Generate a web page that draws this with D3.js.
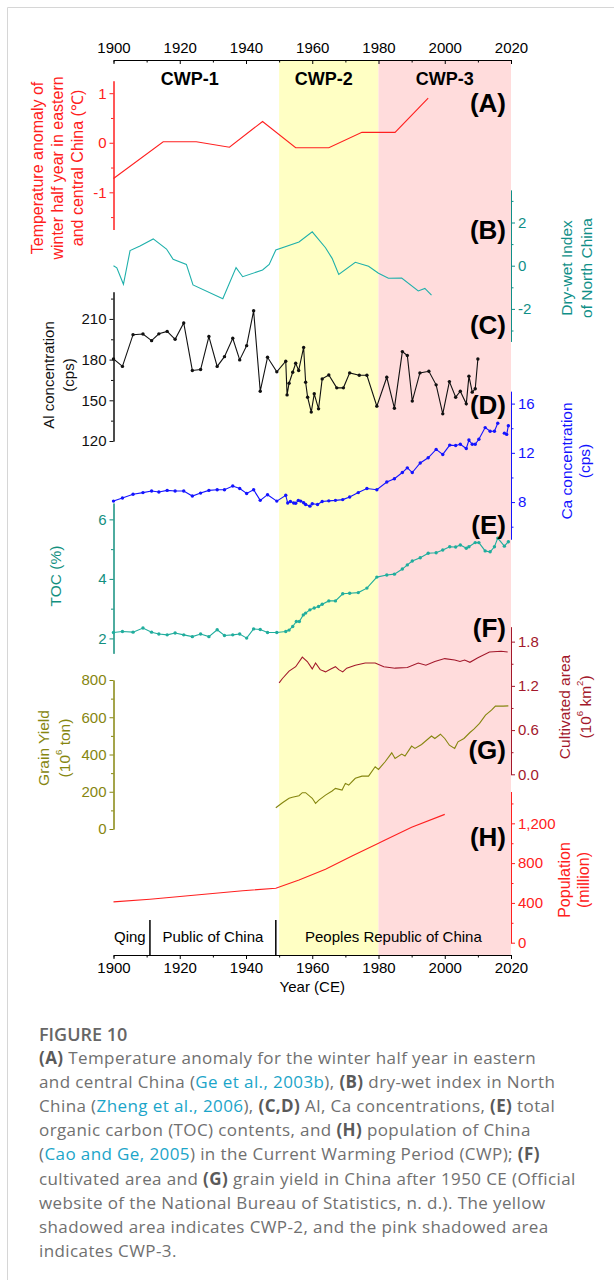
<!DOCTYPE html>
<html>
<head>
<meta charset="utf-8">
<script src="https://cdn.jsdelivr.net/npm/d3@7"></script>
<style>
  body { margin: 0; background: #fff; }
  svg { display: block; font-family: "Liberation Sans", Arial, sans-serif; }
</style>
</head>
<body>
<script>
// ---- data ----
const yearTicks = [1900, 1920, 1940, 1960, 1980, 2000, 2020]
const minorYears = [1910, 1930, 1950, 1970, 1990, 2010]

const shadedPeriods = [
  { start: 1950, end: 1980, fill: "#ffffc4" },
  { start: 1980, end: 2020, fill: "#ffdcdc" }
]
const cwpNames = ["CWP-1", "CWP-2", "CWP-3"]
const cwpLabelYears = [1923, 1963.5, 2000]

const regimeNames = ["Qing", "Public of China", "Peoples Republic of China"]
const regimeBreaks = [1911, 1949]

// (A) temperature anomaly
const tempYears = [1900, 1915, 1925, 1935, 1945, 1955, 1965, 1975, 1985, 1995]
const tempAnom = [-0.72, 0.02, 0.02, -0.09, 0.43, -0.1, -0.1, 0.21, 0.21, 0.9]

// (B) dry-wet index
const dwYears = [1900, 1901, 1903, 1905, 1908, 1912, 1916, 1918, 1922, 1924, 1933, 1937, 1939, 1945, 1947, 1949, 1956, 1960, 1964, 1966, 1968, 1973, 1977, 1980, 1983, 1987, 1992, 1994, 1996]
const dwIndex = [0.0, -0.1, -0.86, 0.7, 0.91, 1.24, 0.77, 0.3, 0.06, -0.89, -1.53, -0.09, -0.51, -0.2, 0.06, 0.73, 1.1, 1.57, 0.83, 0.34, -0.4, 0.16, -0.03, -0.35, -0.58, -0.57, -1.17, -1.05, -1.36]

// (C) Al concentration
const alYears = [1900, 1902.7, 1905.9, 1908.9, 1911.5, 1913.7, 1916.2, 1918.6, 1921.2, 1923.8, 1926.3, 1928.8, 1931.3, 1933.5, 1936, 1938.1, 1940.2, 1942.3, 1944.3, 1946.5, 1949.3, 1952, 1952.4, 1953, 1954.1, 1955, 1955.9, 1957.4, 1958, 1958.6, 1959.7, 1960.6, 1961.9, 1963, 1965, 1967.4, 1969.4, 1971.3, 1974.2, 1976.5, 1979.5, 1982.5, 1984.8, 1987.2, 1988.7, 1990.2, 1992.5, 1995.2, 1997.4, 1999.4, 2001.4, 2003.3, 2004.7, 2006.5, 2007.3, 2008.3, 2009.2, 2010]
const alValues = [180.5, 175, 198.4, 198.9, 194, 199, 200.8, 195, 207, 172, 172.7, 197, 175, 182.2, 195.7, 179.8, 190.3, 216, 156.7, 181.7, 171, 178.8, 154, 162.6, 170.7, 177.3, 172, 189, 163.3, 152.3, 141.3, 154.8, 143.7, 165.8, 168.7, 159.2, 159.2, 170.2, 168.5, 168.5, 145.7, 167, 144.2, 185.9, 183, 149.4, 170.2, 171.4, 161.4, 140, 163.8, 152.3, 156.7, 147.4, 167.8, 156, 158.5, 180.5]

// (D) Ca concentration (null = gap in the record)
const caYears = [1900, 1902.7, 1905.9, 1908.9, 1911.5, 1913.7, 1916.2, 1918.6, 1921.2, 1923.8, 1926.3, 1928.8, 1931.3, 1933.5, 1936, 1938.1, 1940.2, 1942.3, 1944.3, 1946.5, 1949.3, 1952, 1952.6, 1953.4, 1954.4, 1955, 1955.8, 1956.5, 1957.4, 1958, 1959.3, 1960, 1961.6, 1963, 1965, 1967, 1969.2, 1971.3, 1973.9, 1976.5, 1979.5, 1982.5, 1984.8, 1987.2, 1988.7, 1990.2, 1992.6, 1995, 1997.4, 1999.4, 2001.5, 2003.3, 2004.7, 2006.5, 2007.3, 2008.3, 2009.2, 2010.3, 2012.2, 2013.7, 2015, 2016, 2017, 2018, 2018.7, 2019.2]
const caValues = [8.08, 8.33, 8.63, 8.77, 8.9, 8.82, 8.95, 8.9, 8.9, 8.49, 8.73, 8.95, 9.0, 9.0, 9.3, 9.1, 8.7, 9.0, 8.14, 8.6, 8.08, 8.55, 7.92, 8.05, 7.92, 7.9, 8.14, 8.08, 7.95, 7.8, 7.67, 7.87, 7.8, 8.05, 8.1, 8.14, 8.2, 8.41, 8.77, 9.1, 9.0, 9.63, 9.9, 10.4, 10.78, 10.4, 11.18, 11.6, 12.28, 11.87, 12.63, 12.6, 12.7, 12.35, 13.04, 12.7, 12.7, 13.1, 14.05, 13.75, 13.75, 14.4, null, 13.6, 13.5, 14.2]

// (E) TOC
const tocYears = [1900, 1902.7, 1905.9, 1908.9, 1911.5, 1913.7, 1916.2, 1918.6, 1921.2, 1923.8, 1926.3, 1928.8, 1931.3, 1933.5, 1936, 1938.1, 1940.2, 1942.3, 1944.3, 1946.5, 1949.3, 1952, 1953, 1954.1, 1955.2, 1956.1, 1957.3, 1958, 1959.3, 1960.6, 1961.9, 1963, 1965, 1967, 1969.2, 1971.3, 1973.9, 1976.5, 1979.5, 1982.5, 1984.8, 1987.2, 1988.7, 1990.2, 1992.6, 1995, 1997.4, 1999.4, 2001.5, 2003.3, 2004.7, 2006.5, 2007.3, 2009.2, 2010.3, 2012.2, 2013.7, 2015, 2016, 2018, 2019.2]
const tocValues = [2.2, 2.23, 2.21, 2.35, 2.21, 2.15, 2.12, 2.18, 2.12, 2.06, 2.15, 2.06, 2.29, 2.1, 2.12, 2.15, 2.01, 2.32, 2.3, 2.2, 2.2, 2.23, 2.28, 2.4, 2.57, 2.57, 2.79, 2.85, 2.96, 3.02, 3.07, 3.15, 3.26, 3.26, 3.5, 3.52, 3.54, 3.69, 4.06, 4.13, 4.16, 4.33, 4.47, 4.6, 4.71, 4.86, 4.88, 4.97, 5.08, 5.07, 5.14, 5.03, 5.08, 5.22, 5.22, 4.94, 4.91, 5.08, 5.37, 5.1, 5.25]

// (F) cultivated area
const cultYears = [1950, 1951, 1953, 1955, 1957, 1958.5, 1960, 1961, 1962.4, 1964, 1965.6, 1967, 1968, 1969.2, 1970.4, 1973, 1976, 1979, 1981.6, 1985, 1988.7, 1992, 1994.3, 1997, 2000, 2003, 2004.6, 2006, 2007.6, 2010, 2013.5, 2017, 2019]
const cultArea = [1.24, 1.30, 1.40, 1.46, 1.59, 1.53, 1.43, 1.51, 1.42, 1.39, 1.43, 1.46, 1.42, 1.39, 1.44, 1.48, 1.51, 1.51, 1.46, 1.44, 1.45, 1.51, 1.48, 1.53, 1.57, 1.55, 1.53, 1.55, 1.52, 1.58, 1.66, 1.67, 1.66]

// (G) grain yield
const grainYears = [1949, 1951, 1953, 1954, 1956, 1957, 1958, 1960, 1961, 1962, 1964, 1966, 1967, 1969, 1970, 1971, 1973, 1975, 1977, 1979, 1980, 1982, 1984, 1985, 1987, 1988, 1990, 1991, 1993, 1996, 1997, 1998.7, 2000, 2001.4, 2003, 2004, 2005.8, 2007.6, 2008.8, 2010.5, 2012.3, 2014.1, 2015.3, 2017.6, 2019.2]
const grainYield = [114, 141, 165, 170, 179, 195, 195, 165, 138, 155, 182, 204, 218, 209, 245, 236, 272, 284, 284, 334, 320, 361, 409, 379, 402, 392, 445, 433, 454, 499, 486, 509, 486, 450, 433, 468, 486, 518, 536, 567, 611, 638, 660, 660, 661]

// (H) population
const popYears = [1900, 1911, 1925, 1939, 1949, 1956, 1964, 1972, 1980, 1982, 1990, 2000]
const population = [410, 437, 479, 523, 547, 630, 738, 871, 999, 1032, 1160, 1290]

// ---- layout ----
const w = 614
const h = 1280
const plotTop = 60
const plotBottom = 955

const svg = d3.select("body")
                .append("svg")
                .attr("width", w)
                .attr("height", h)

// page frame
svg.append("path")
    .attr("d", `M7.5,${h}V7.5H${w}`)
    .attr("fill", "none")
    .attr("stroke", "#d6d6d6")

const x = d3.scaleLinear().domain([1900, 2020]).range([113.5, 511])

// shaded periods
svg.selectAll("rect.period")
    .data(shadedPeriods)
    .enter()
    .append("rect")
    .attr("class", "period")
    .attr("x", d => x(d.start))
    .attr("y", plotTop)
    .attr("width", d => x(d.end) - x(d.start))
    .attr("height", plotBottom - plotTop)
    .attr("fill", d => d.fill)

// strip d3's default font so css applies
const styleAxis = (g, color) => {
  g.attr("font-family", null).attr("font-size", 15)
  g.select(".domain").attr("stroke", color)
  g.selectAll(".tick line").attr("stroke", color)
  g.selectAll(".tick text").attr("fill", color)
}

// top and bottom year axes
svg.append("g")
    .attr("transform", `translate(0,${plotTop})`)
    .call(d3.axisTop(x).tickValues(yearTicks).tickSize(-4).tickSizeOuter(0).tickPadding(7).tickFormat(d3.format("d")))
    .call(g => styleAxis(g, "#000"))
svg.append("g")
    .attr("transform", `translate(0,${plotTop})`)
    .call(d3.axisTop(x).tickValues(minorYears).tickSize(-2.5).tickFormat(""))
    .call(g => styleAxis(g, "#000"))

svg.append("g")
    .attr("transform", `translate(0,${plotBottom})`)
    .call(d3.axisBottom(x).tickValues(yearTicks).tickSize(4).tickSizeOuter(0).tickPadding(3).tickFormat(d3.format("d")))
    .call(g => styleAxis(g, "#000"))
svg.append("g")
    .attr("transform", `translate(0,${plotBottom})`)
    .call(d3.axisBottom(x).tickValues(minorYears).tickSize(2.5).tickFormat(""))
    .call(g => styleAxis(g, "#000"))

svg.append("text")
    .attr("x", x(1960))
    .attr("y", 992)
    .attr("text-anchor", "middle")
    .attr("font-size", 15)
    .text("Year (CE)")

// CWP labels
svg.selectAll("text.cwp")
    .data(cwpNames)
    .enter()
    .append("text")
    .attr("class", "cwp")
    .attr("x", (d, i) => x(cwpLabelYears[i]))
    .attr("y", 84.5)
    .attr("text-anchor", "middle")
    .attr("font-size", 18)
    .attr("font-weight", "bold")
    .text(d => d)

// one y axis per panel
const yAxis = (scale, side, major, minor, fmt, color) => {
  const axisFn = side === "left" ? d3.axisLeft : d3.axisRight
  const g = svg.append("g")
                .attr("transform", `translate(${side === "left" ? x(1900) : x(2020)},0)`)
  g.append("g")
    .call(axisFn(scale).tickValues(major).tickSize(4).tickSizeOuter(0).tickPadding(3).tickFormat(fmt))
    .call(a => styleAxis(a, color))
  g.append("g")
    .call(axisFn(scale).tickValues(minor).tickSize(2.5).tickSizeOuter(0).tickFormat(""))
    .call(a => styleAxis(a, color))
}

const drawSeries = (years, values, scale, color, markers) => {
  const pts = d3.zip(years, values)
  const line = d3.line()
                  .defined(d => d[1] !== null)
                  .x(d => x(d[0]))
                  .y(d => scale(d[1]))
  svg.append("path")
      .datum(pts)
      .attr("d", line)
      .attr("fill", "none")
      .attr("stroke", color)
      .attr("stroke-width", 1.1)
  if (markers) {
    svg.append("g")
        .selectAll("circle")
        .data(pts.filter(d => d[1] !== null))
        .enter()
        .append("circle")
        .attr("cx", d => x(d[0]))
        .attr("cy", d => scale(d[1]))
        .attr("r", 1.7)
        .attr("fill", color)
  }
}

// rotated multi-line axis title; lines = array of arrays of [text, isSuper]
const axisTitle = (lines, xs, cy, color, size) => {
  lines.forEach((parts, i) => {
    const t = svg.append("text")
                  .attr("transform", `translate(${xs[i]},${cy}) rotate(-90)`)
                  .attr("text-anchor", "middle")
                  .attr("dominant-baseline", "central")
                  .attr("font-size", size)
                  .attr("fill", color)
    parts.forEach(p => {
      const s = t.append("tspan").text(p[0])
      if (p[1]) s.attr("font-size", size * 0.62).attr("baseline-shift", "super")
    })
  })
}

const panelLabel = (label, cy) => {
  svg.append("text")
      .attr("x", 506)
      .attr("y", cy)
      .attr("text-anchor", "end")
      .attr("dominant-baseline", "central")
      .attr("font-size", 26)
      .attr("font-weight", "bold")
      .text(label)
}

// (A)
const colA = "#ff2020"
const yA = d3.scaleLinear().domain([-1.75, 1.25]).range([229.5, 80.8])
yAxis(yA, "left", [-1, 0, 1], [-1.5, -0.5, 0.5], d => (d < 0 ? "-" + Math.abs(d) : d), colA)
drawSeries(tempYears, tempAnom, yA, colA, false)
axisTitle([[["Temperature anomaly of"]], [["winter half year in eastern"]], [["and central China (℃)"]]], [37, 57, 77], 168, colA, 16)
panelLabel("(A)", 103)

// (B)
const colBline = "#1fb0ab"
const colB = "#0f8f88"
const yB = d3.scaleLinear().domain([-3.5, 3.5]).range([341.3, 190.1])
yAxis(yB, "right", [-2, 0, 2], [-3, -1, 1, 3], d => (d < 0 ? "-" + Math.abs(d) : d), colB)
drawSeries(dwYears, dwIndex, yB, colBline, false)
axisTitle([[["Dry-wet Index"]], [["of North China"]]], [566, 586], 268, colB, 15.5)
panelLabel("(B)", 230)

// (C)
const colC = "#111"
const yC = d3.scaleLinear().domain([120, 230]).range([441, 291.8])
yAxis(yC, "left", [120, 150, 180, 210], [135, 165, 195, 225], d3.format("d"), colC)
drawSeries(alYears, alValues, yC, colC, true)
axisTitle([[["Al concentration"]], [["(cps)"]]], [48, 68], 375, colC, 15)
panelLabel("(C)", 325)

// (D)
const colD = "#1414ff"
const yD = d3.scaleLinear().domain([5, 17]).range([539, 391.3])
yAxis(yD, "right", [8, 12, 16], [6, 10, 14], d3.format("d"), colD)
drawSeries(caYears, caValues, yD, colD, true)
axisTitle([[["Ca concentration"]], [["(cps)"]]], [566, 584], 461, colD, 15.5)
panelLabel("(D)", 405)

// (E)
const colEline = "#20ad9d"
const colE = "#13907f"
const yE = d3.scaleLinear().domain([1.5, 6.55]).range([653.3, 503])
yAxis(yE, "left", [2, 4, 6], [3, 5], d3.format("d"), colE)
drawSeries(tocYears, tocValues, yE, colEline, true)
axisTitle([[["TOC (%)"]]], [55], 576, colE, 15.5)
panelLabel("(E)", 525)

// (F)
const colF = "#a3182b"
const yF = d3.scaleLinear().domain([0, 2]).range([774.3, 626.9])
yAxis(yF, "right", [0, 0.6, 1.2, 1.8], [0.3, 0.9, 1.5], d3.format(".1f"), colF)
drawSeries(cultYears, cultArea, yF, colF, false)
axisTitle([[["Cultivated area"]], [["(10"], ["6", true], [" km"], ["2", true], [")"]]], [564, 585], 707, colF, 15.5)
panelLabel("(F)", 628)

// (G)
const colG = "#86860f"
const yG = d3.scaleLinear().domain([0, 800]).range([829, 680])
yAxis(yG, "left", [0, 200, 400, 600, 800], [100, 300, 500, 700], d3.format("d"), colG)
drawSeries(grainYears, grainYield, yG, colG, false)
axisTitle([[["Grain Yield"]], [["(10"], ["6", true], [" ton)"]]], [43, 64], 748, colG, 15.5)
panelLabel("(G)", 750)

// (H)
const colH = "#ff2020"
const yH = d3.scaleLinear().domain([0, 1520]).range([942.7, 791.5])
yAxis(yH, "right", [0, 400, 800, 1200], [200, 600, 1000, 1400], d3.format(","), colH)
drawSeries(popYears, population, yH, colH, false)
axisTitle([[["Population"]], [["(million)"]]], [564, 583], 880, colH, 16)
panelLabel("(H)", 837)

// political periods along the bottom
svg.selectAll("line.regime")
    .data(regimeBreaks)
    .enter()
    .append("line")
    .attr("class", "regime")
    .attr("x1", d => x(d))
    .attr("x2", d => x(d))
    .attr("y1", 920)
    .attr("y2", plotBottom)
    .attr("stroke", "#000")
    .attr("stroke-width", 1.5)

const regimeBounds = [1900].concat(regimeBreaks, [2020])
svg.selectAll("text.regime")
    .data(regimeNames)
    .enter()
    .append("text")
    .attr("class", "regime")
    .attr("x", (d, i) => i === 0 ? x(1900) + 0.5 : x((regimeBounds[i] + regimeBounds[i + 1]) / 2))
    .attr("y", 942)
    .attr("text-anchor", (d, i) => i === 0 ? "start" : "middle")
    .attr("font-size", 15)
    .text(d => d)

// ---- caption ----
const capLines = [
  [["(A)", "b"], [" Temperature anomaly for the winter half year in eastern", ""]],
  [["and central China (", ""], ["Ge et al., 2003b", "l"], ["), ", ""], ["(B)", "b"], [" dry-wet index in North", ""]],
  [["China (", ""], ["Zheng et al., 2006", "l"], ["), ", ""], ["(C,D)", "b"], [" Al, Ca concentrations, ", ""], ["(E)", "b"], [" total", ""]],
  [["organic carbon (TOC) contents, and ", ""], ["(H)", "b"], [" population of China", ""]],
  [["(", ""], ["Cao and Ge, 2005", "l"], [") in the Current Warming Period (CWP); ", ""], ["(F)", "b"]],
  [["cultivated area and ", ""], ["(G)", "b"], [" grain yield in China after 1950 CE (Official", ""]],
  [["website of the National Bureau of Statistics, n. d.). The yellow", ""]],
  [["shadowed area indicates CWP-2, and the pink shadowed area", ""]],
  [["indicates CWP-3.", ""]]
]

const caption = svg.append("g")
                    .attr("font-family", "'Open Sans', sans-serif")
                    .attr("font-size", 17)
                    .attr("letter-spacing", 0.4)
                    .attr("fill", "#707070")

caption.append("text")
        .attr("x", 39)
        .attr("y", 1041)
        .attr("font-weight", 600)
        .attr("font-size", 18)
        .attr("letter-spacing", 0)
        .attr("fill", "#666")
        .text("FIGURE 10")

capLines.forEach((parts, i) => {
  const t = caption.append("text")
                    .attr("x", 39)
                    .attr("y", 1064 + i * 24.1)
  parts.forEach(p => {
    const s = t.append("tspan").text(p[0])
    if (p[1] === "b") s.attr("font-weight", "bold").attr("fill", "#5a5a5a")
    if (p[1] === "l") s.attr("fill", "#1ba5c9")
  })
})
</script>
</body>
</html>
